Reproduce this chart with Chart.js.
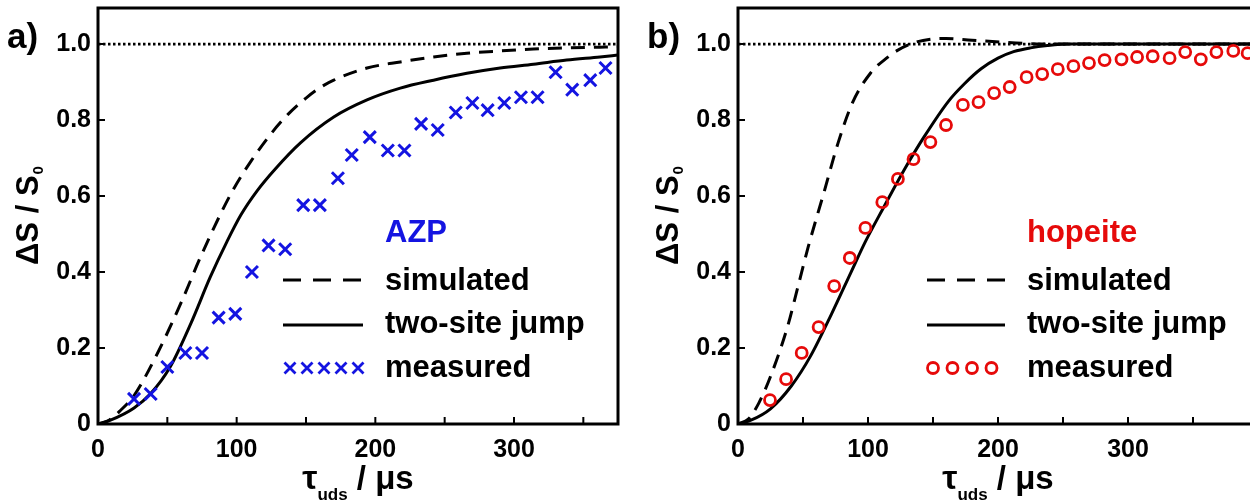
<!DOCTYPE html>
<html><head><meta charset="utf-8">
<script src="https://cdn.jsdelivr.net/npm/chart.js@4.4.1/dist/chart.umd.min.js"></script>
<style>
html,body{margin:0;padding:0;width:1250px;height:503px;overflow:hidden;background:#fff;}
.wrap{position:absolute;top:0;width:640px;height:503px;}
#wrapA{left:0;}
#wrapB{left:640px;}
</style></head><body>
<div class="wrap" id="wrapA"><canvas id="cA" width="640" height="503"></canvas></div>
<div class="wrap" id="wrapB"><canvas id="cB" width="640" height="503"></canvas></div>
<script>
// ---------- data: panel a) AZP ----------
const azpMeasX = [26, 38, 50, 63, 75, 87, 99, 111, 123, 135, 148, 160, 173, 183, 196, 209, 221, 233, 245, 258, 270, 281, 293, 305, 317, 330, 342, 355, 366];
const azpMeasY = [0.066, 0.079, 0.15, 0.187, 0.187, 0.28, 0.29, 0.40, 0.47, 0.46, 0.576, 0.576, 0.647, 0.708, 0.755, 0.72, 0.72, 0.79, 0.774, 0.82, 0.845, 0.826, 0.845, 0.86, 0.86, 0.926, 0.88, 0.905, 0.937];
const azpSimX = [0, 8, 16, 26, 43, 60, 74, 88, 98, 110, 125, 137, 150, 160, 170, 194, 218, 242, 266, 290, 314, 338, 362, 375];
const azpSimY = [0, 0.01, 0.035, 0.075, 0.187, 0.32, 0.44, 0.55, 0.62, 0.69, 0.765, 0.815, 0.858, 0.885, 0.905, 0.937, 0.953, 0.966, 0.976, 0.982, 0.987, 0.99, 0.992, 0.993];
const azpJumpX = [0, 9, 26, 38, 52, 67, 81, 93, 103, 115, 128, 146, 170, 194, 218, 242, 266, 290, 314, 338, 362, 375];
const azpJumpY = [0, 0.01, 0.042, 0.08, 0.15, 0.265, 0.387, 0.48, 0.55, 0.615, 0.672, 0.74, 0.808, 0.853, 0.884, 0.905, 0.923, 0.937, 0.947, 0.958, 0.966, 0.971];

// ---------- data: panel b) hopeite ----------
const hopMeasX = [24.6, 37, 49, 62, 74, 86, 98, 111, 123, 135, 148, 160, 173, 185, 197, 209, 222, 234, 246, 258, 270, 282, 295, 307, 319, 332, 344, 356, 368, 381, 392];
const hopMeasY = [0.063, 0.118, 0.187, 0.255, 0.363, 0.437, 0.516, 0.584, 0.645, 0.697, 0.742, 0.787, 0.84, 0.847, 0.871, 0.887, 0.913, 0.921, 0.934, 0.942, 0.95, 0.958, 0.96, 0.966, 0.968, 0.963, 0.979, 0.96, 0.979, 0.982, 0.976];
const hopSimX = [0, 8, 16, 25, 38, 46, 54, 66, 77, 88, 102, 115, 123, 135, 148, 160, 180, 205, 233, 400];
const hopSimY = [0, 0.013, 0.055, 0.125, 0.255, 0.36, 0.466, 0.608, 0.74, 0.845, 0.924, 0.965, 0.984, 1.003, 1.013, 1.015, 1.01, 1.005, 1.0, 1.0];
const hopJumpX = [0, 10, 25, 41, 56, 72, 87, 98, 112, 128, 143, 162, 174, 187, 200, 212, 225, 238, 255, 400];
const hopJumpY = [0, 0.01, 0.04, 0.1, 0.18, 0.29, 0.4, 0.48, 0.57, 0.67, 0.755, 0.85, 0.895, 0.935, 0.963, 0.98, 0.99, 0.996, 1.0, 1.0];

// ---------- axes ----------
const refLevel = 1.0;
const yMin = 0, yMax = 1.095;
const yTickValues = [0, 0.2, 0.4, 0.6, 0.8, 1.0];
const yTickLabels = ['0', '0.2', '0.4', '0.6', '0.8', '1.0'];
const xMaxA = 375, xMaxB = 400;
const xTickValues = [0, 50, 100, 150, 200, 250, 300, 350];
const xTickLabels = ['0', '', '100', '', '200', '', '300', ''];
const legendLabels = ['simulated', 'two-site jump', 'measured'];

const FONT = '"Liberation Sans", Arial, sans-serif';
const pts = (xs, ys) => xs.map((x, i) => ({x: x, y: ys[i]}));

const deco = {
  id: 'deco',
  afterDatasetsDraw(chart, args, o) {
    const ctx = chart.ctx, a = chart.chartArea;
    const xs = chart.scales.x, ys = chart.scales.y;
    ctx.save();
    ctx.strokeStyle = '#000';
    ctx.lineWidth = 2;
    ctx.beginPath();
    xs.ticks.forEach(t => { const p = xs.getPixelForValue(t.value); ctx.moveTo(p, a.bottom); ctx.lineTo(p, a.bottom - 7); });
    ys.ticks.forEach(t => { const p = ys.getPixelForValue(t.value); ctx.moveTo(a.left, p); ctx.lineTo(a.left + 7, p); });
    ctx.stroke();
    ctx.lineWidth = 3;
    ctx.strokeRect(a.left, a.top, a.right - a.left, a.bottom - a.top);
    ctx.restore();
  },
  afterDraw(chart, args, o) {
    const ctx = chart.ctx, a = chart.chartArea;
    const L = a.left;
    ctx.save();
    ctx.fillStyle = '#000';
    ctx.textBaseline = 'alphabetic';
    // panel tag
    ctx.font = 'bold 35px ' + FONT;
    ctx.textAlign = 'left';
    ctx.fillText(o.tag, 7, 48);
    // y title
    ctx.save();
    ctx.translate(L - 72, (a.top + a.bottom) / 2);
    ctx.rotate(-Math.PI / 2);
    ctx.font = 'bold 31px ' + FONT;
    const m1 = 'ΔS / S';
    const w1 = ctx.measureText(m1).width;
    ctx.font = 'bold 15px ' + FONT;
    const w2 = ctx.measureText('0').width;
    const x0 = -(w1 + w2) / 2;
    ctx.font = 'bold 31px ' + FONT;
    ctx.fillText(m1, x0, 12);
    ctx.font = 'bold 15px ' + FONT;
    ctx.fillText('0', x0 + w1 + 1, 17);
    ctx.restore();
    // x title
    const parts = [['τ', 34, 0], ['uds', 17, 11], [' / μs', 33, 0]];
    let tw = 0;
    parts.forEach(p => { ctx.font = 'bold ' + p[1] + 'px ' + FONT; p.push(ctx.measureText(p[0]).width); tw += p[3]; });
    let cx = (a.left + a.right) / 2 - tw / 2;
    parts.forEach(p => { ctx.font = 'bold ' + p[1] + 'px ' + FONT; ctx.fillText(p[0], cx, 489 + p[2]); cx += p[3]; });
    // legend
    const sx0 = L + o.sampleStart, sx1 = L + o.sampleEnd, tx = L + o.textX;
    ctx.font = 'bold 31px ' + FONT;
    ctx.fillStyle = o.color;
    ctx.fillText(o.name, tx, 242);
    ctx.fillStyle = '#000';
    ctx.fillText(legendLabels[0], tx, 290);
    ctx.fillText(legendLabels[1], tx, 333);
    ctx.fillText(legendLabels[2], tx, 377);
    ctx.strokeStyle = '#000';
    ctx.lineWidth = 3;
    ctx.setLineDash([18, 12]);
    ctx.beginPath(); ctx.moveTo(sx0, 280); ctx.lineTo(sx1, 280); ctx.stroke();
    ctx.setLineDash([]);
    ctx.beginPath(); ctx.moveTo(sx0, 325); ctx.lineTo(sx1, 325); ctx.stroke();
    ctx.strokeStyle = o.color;
    ctx.lineWidth = 2.8;
    if (o.marker === 'cross') {
      for (let i = 0; i < 5; i++) {
        const c = sx0 + 7 + i * 17, r = 5.5;
        ctx.beginPath();
        ctx.moveTo(c - r, 368 - r); ctx.lineTo(c + r, 368 + r);
        ctx.moveTo(c - r, 368 + r); ctx.lineTo(c + r, 368 - r);
        ctx.stroke();
      }
    } else {
      for (let i = 0; i < 4; i++) {
        const c = sx0 + 6 + i * 19.5;
        ctx.beginPath(); ctx.arc(c, 368, 5.5, 0, Math.PI * 2); ctx.stroke();
      }
    }
    ctx.restore();
  }
};

function makeChart(id, measX, measY, jumpX, jumpY, simX, simY, xMax, measStyle, deco_o) {
  const isCross = measStyle === 'crossRot';
  return new Chart(document.getElementById(id), {
    type: 'scatter',
    data: {
      datasets: [
        {data: pts(measX, measY), showLine: false, pointStyle: measStyle,
         pointRadius: isCross ? 8.5 : 5.5, borderWidth: isCross ? 3 : 2.8,
         borderColor: deco_o.color, backgroundColor: 'rgba(0,0,0,0)'},
        {data: pts(jumpX, jumpY), showLine: true, pointRadius: 0, borderColor: '#000', borderWidth: 3,
         cubicInterpolationMode: 'monotone', fill: false},
        {data: pts(simX, simY), showLine: true, pointRadius: 0, borderColor: '#000', borderWidth: 3,
         borderDash: [14, 9], cubicInterpolationMode: 'monotone', fill: false},
        {data: pts([0, xMax], [refLevel, refLevel]), showLine: true, pointRadius: 0, borderColor: '#000',
         borderWidth: 2.8, borderDash: [2.5, 2.5], fill: false}
      ]
    },
    options: {
      responsive: false, animation: false, events: [],
      layout: {autoPadding: false, padding: {left: 0, top: 8, right: 22, bottom: 0}},
      plugins: {legend: {display: false}, tooltip: {enabled: false}, deco: deco_o},
      scales: {
        x: {type: 'linear', min: 0, max: xMax,
            afterFit: s => { s.height = 79; s.paddingLeft = 0; s.paddingRight = 0; },
            afterBuildTicks: s => { s.ticks = xTickValues.map(v => ({value: v})); },
            grid: {display: false, drawTicks: false}, border: {display: false},
            ticks: {autoSkip: false, maxRotation: 0, padding: 11, color: '#000',
                    font: {family: FONT, weight: 'bold', size: 25},
                    callback: (v, i) => xTickLabels[i]}},
        y: {type: 'linear', min: yMin, max: yMax,
            afterFit: s => { s.width = 98; s.paddingTop = 0; s.paddingBottom = 0; },
            afterBuildTicks: s => { s.ticks = yTickValues.map(v => ({value: v})); },
            grid: {display: false, drawTicks: false}, border: {display: false},
            ticks: {autoSkip: false, padding: 7, color: '#000',
                    font: {family: FONT, weight: 'bold', size: 25},
                    callback: (v, i) => yTickLabels[i]}}
      }
    },
    plugins: [deco]
  });
}

makeChart('cA', azpMeasX, azpMeasY, azpJumpX, azpJumpY, azpSimX, azpSimY, xMaxA, 'crossRot',
  {tag: 'a)', name: 'AZP', color: 'rgb(20,20,225)', marker: 'cross', sampleStart: 185, sampleEnd: 265, textX: 287});
makeChart('cB', hopMeasX, hopMeasY, hopJumpX, hopJumpY, hopSimX, hopSimY, xMaxB, 'circle',
  {tag: 'b)', name: 'hopeite', color: 'rgb(230,10,10)', marker: 'circle', sampleStart: 189, sampleEnd: 267, textX: 289});
</script>
</body></html>
